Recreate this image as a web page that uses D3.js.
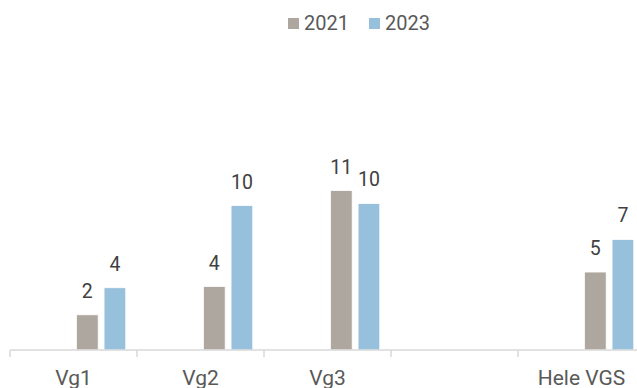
<!DOCTYPE html>
<html>
<head>
<meta charset="utf-8">
<script src="https://cdn.jsdelivr.net/npm/d3@7"></script>
<style>
  html, body { margin: 0; padding: 0; background: #ffffff; }
  svg { display: block; }
</style>
</head>
<body>
<svg id="chart" width="637" height="388"></svg>
<script>
// ---- data ----
const categories = ["Vg1", "Vg2", "Vg3", "", "Hele VGS"];
const seriesNames = ["2021", "2023"];
const values2021 = [2.0, 4.05, 11.0, null, 5.1];
const values2023 = [3.96, 9.92, 10.07, null, 7.46];
// cluster slots: two unused slots precede the visible series in each group
const seriesSlots = [2, 3];
const slotCount = 4;
const colors = ["#aea79f", "#96c0dc"];

const seriesValues = [values2021, values2023];

const svg = d3.select("#chart");
const W = 637, H = 388;
const baseY = 350;
const pxPerUnit = 13.8;
const yMin = -0.55, yMax = 12;

const x = d3.scaleBand().domain(categories).range([10, 10 + 127 * categories.length]).padding(0);
const x1 = d3.scaleBand().domain(d3.range(slotCount)).range([0, x.bandwidth()])
  .paddingInner(0.214).paddingOuter(0.407);
const y = d3.scaleLinear().domain([yMin, yMax]).range([baseY, baseY - (yMax - yMin) * pxPerUnit]);

const fmt = d3.format(".0f");

// bars
seriesNames.forEach((name, si) => {
  const g = svg.append("g");
  const data = categories.map((c, i) => ({ c, v: seriesValues[si][i] })).filter(d => d.v != null);
  g.selectAll("rect").data(data).enter().append("rect")
    .attr("x", d => x(d.c) + x1(seriesSlots[si]))
    .attr("y", d => y(d.v))
    .attr("width", x1.bandwidth())
    .attr("height", d => y(yMin) - y(d.v))
    .attr("fill", colors[si])
    .attr("stroke", "#ffffff")
    .attr("stroke-width", 0.75);
  g.selectAll("text").data(data).enter().append("text")
    .attr("x", d => x(d.c) + x1(seriesSlots[si]) + x1.bandwidth() / 2)
    .attr("y", d => y(d.v) - 17)
    .attr("text-anchor", "middle")
    .attr("font-family", "Roboto, 'Liberation Sans', sans-serif")
    .attr("font-size", 19.5)
    .attr("fill", "#404040")
    .text(d => fmt(d.v));
});

// axis
const xAxis = d3.axisBottom(x).tickSize(0).tickFormat(d => d);
const axG = svg.append("g").attr("transform", `translate(0,${baseY})`).call(xAxis);
axG.select(".domain").attr("stroke", "#d9d9d9").attr("stroke-width", 1.5)
  .attr("d", `M${x.range()[0]},0H${x.range()[1]}`);
axG.selectAll(".tick text")
  .attr("y", 35)
  .attr("dy", 0)
  .attr("font-family", "Roboto, 'Liberation Sans', sans-serif")
  .attr("font-size", 21)
  .attr("fill", "#595959");
// category separators
const boundaries = categories.map(c => x(c)).concat([x.range()[1]]);
axG.selectAll("line.sep").data(boundaries).enter().append("line")
  .attr("class", "sep")
  .attr("x1", d => d).attr("x2", d => d)
  .attr("y1", 0).attr("y2", 7)
  .attr("stroke", "#d9d9d9").attr("stroke-width", 1.5);

// legend
const legend = svg.append("g");
const legendX = [288, 369];
seriesNames.forEach((name, si) => {
  legend.append("rect")
    .attr("x", legendX[si]).attr("y", 18)
    .attr("width", 11).attr("height", 11)
    .attr("fill", colors[si]);
  legend.append("text")
    .attr("x", legendX[si] + 16).attr("y", 29.5)
    .attr("font-family", "Roboto, 'Liberation Sans', sans-serif")
    .attr("font-size", 20)
    .attr("fill", "#595959")
    .text(name);
});
</script>
</body>
</html>
